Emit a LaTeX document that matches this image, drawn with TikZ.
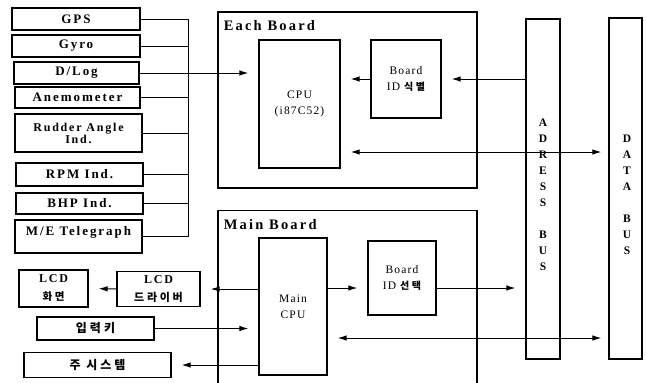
\documentclass[tikz,border=0pt]{standalone}
\usepackage{fontspec}
\setmainfont{Liberation Serif}[LetterSpace=15]
\newfontfamily\kr{Noto Sans CJK KR}[LetterSpace=25]
\usetikzlibrary{arrows.meta}

\begin{document}
\begin{tikzpicture}[x=1pt, y=-1pt, line width=1pt,
  box/.style={draw, line width=1.3pt, inner sep=0pt, align=center, font=\bfseries\fontsize{13}{14}\selectfont},
  inbox/.style={box, font=\addfontfeature{LetterSpace=10}\fontsize{11.5}{16}\selectfont},
  arr/.style={-{Latex[length=9pt, width=5.5pt]}, shorten >=10pt},
  darr/.style={{Latex[length=9pt, width=5.5pt]}-{Latex[length=9pt, width=5.5pt]}, shorten <=10pt, shorten >=7pt},
  busl/.style={inner sep=0pt, align=center, font=\bfseries\fontsize{11.5}{16}\selectfont}]
  \useasboundingbox (0,0) rectangle (646,383);

  \node[box, minimum width=128pt, minimum height=22pt] (GPS) at (76,19) {GPS};
  \node[box, minimum width=128pt, minimum height=22pt] (GY) at (76,46) {Gyro};
  \node[box, minimum width=125pt, minimum height=22pt] (DL) at (76.5,73) {D/Log};
  \node[box, minimum width=125pt, minimum height=21pt] (AN) at (77.5,97.5) {Anemometer};
  \node[box, minimum width=127pt, minimum height=38pt, font=\bfseries\fontsize{12}{9.5}\selectfont] (RA) at (78.5,133) {Rudder Angle\\Ind.};
  \node[box, minimum width=127pt, minimum height=23pt] (RPM) at (79.5,174.5) {RPM Ind.};
  \node[box, minimum width=127pt, minimum height=21pt] (BHP) at (79.5,203.5) {BHP Ind.};
  \node[box, minimum width=127pt, minimum height=33pt, text depth=12pt] (ME) at (78.5,236.5) {M/E Telegraph};
  \coordinate (S) at (188,19);

  \node[draw, line width=1.3pt, minimum width=259pt, minimum height=176pt] (EB) at (347.5,100) {};
  \node[anchor=north west, inner sep=0pt, xshift=6pt, yshift=-9pt, font=\bfseries\fontsize{14.5}{15}\selectfont] (EBT) at (EB.north west) {Each Board};
  \node[inbox, minimum width=81pt, minimum height=128pt] (CPU) at (299.5,104) {CPU\\(i87C52)};
  \node[inbox, minimum width=70pt, minimum height=78pt] (ID) at (406,79) {Board\\ID {\kr\bfseries\fontsize{10}{16}\selectfont 식별}};

  \node[draw, line width=1.3pt, minimum width=259pt, minimum height=180pt] (MB) at (347.5,300.5) {};
  \node[anchor=north west, inner sep=0pt, xshift=6pt, yshift=-9pt, font=\bfseries\fontsize{14.5}{15}\selectfont] (MBT) at (MB.north west) {Main Board};
  \node[inbox, minimum width=68pt, minimum height=137pt] (MC) at (293,306.5) {Main\\CPU};
  \node[inbox, minimum width=68pt, minimum height=74pt] (SEL) at (402,278) {Board\\ID {\kr\bfseries\fontsize{10}{16}\selectfont 선택}};

  \node[box, minimum width=34pt, minimum height=340pt] (AB) at (543,189) {};
  \node[box, minimum width=33pt, minimum height=341pt] (DB) at (625.5,188.5) {};
  \node[busl, yshift=-6pt] (ABT) at (AB) {A\\D\\R\\E\\S\\S\\[16pt]B\\U\\S};
  \node[busl, yshift=-6pt, xshift=1.5pt] (DBT) at (DB) {D\\A\\T\\A\\[16pt]B\\U\\S};

  \node[box, minimum width=69pt, minimum height=37pt, font=\bfseries\fontsize{12}{18}\selectfont] (LCD) at (53.5,288.5) {LCD\\{\kr\bfseries\fontsize{10.5}{18}\selectfont 화면}};
  \node[box, minimum width=83pt, minimum height=35pt, font=\bfseries\fontsize{12}{18}\selectfont] (DRV) at (158.5,289) {LCD\\{\kr\bfseries\fontsize{11}{18}\selectfont 드라이버}};
  \node[box, minimum width=117pt, minimum height=23pt, font=\kr\bfseries\fontsize{12}{13}\selectfont] (KEY) at (95.5,328.5) {입력키};
  \node[box, minimum width=147pt, minimum height=25pt, font=\kr\bfseries\fontsize{12}{13}\selectfont] (SYS) at (97.5,365) {주 시스템};

  \draw (GPS.east) -- (GPS.east -| S);
  \draw (GY.east) -- (GY.east -| S);
  \draw (AN.east) -- (AN.east -| S);
  \draw (RA.east) -- (RA.east -| S);
  \draw (RPM.east) -- (RPM.east -| S);
  \draw (BHP.east) -- (BHP.east -| S);
  \draw (ME.east) -- (ME.east -| S);
  \draw (GPS.east -| S) -- (ME.east -| S);
  \draw[arr] (DL.east) -- (DL.east -| CPU.west);

  \draw[arr] (ID.west) -- (ID.west -| CPU.east);
  \draw[arr] (AB.west |- ID.east) -- (ID.east);
  \draw[darr] (CPU.east |- 0,152) -- (DB.west |- 0,152);

  \draw[arr] (MC.east |- 0,288) -- (SEL.west |- 0,288);
  \draw[arr] (SEL.east |- 0,288) -- (AB.west |- 0,288);
  \draw[darr] (MC.east |- 0,338) -- (DB.west |- 0,338);
  \draw[arr] (MC.west |- DRV.east) -- (DRV.east);
  \draw[arr] (DRV.west) -- (LCD.east);
  \draw[arr] (KEY.east) -- (KEY.east -| MC.west);
  \draw[arr] (MC.west |- SYS.east) -- (SYS.east);
\end{tikzpicture}
\end{document}
